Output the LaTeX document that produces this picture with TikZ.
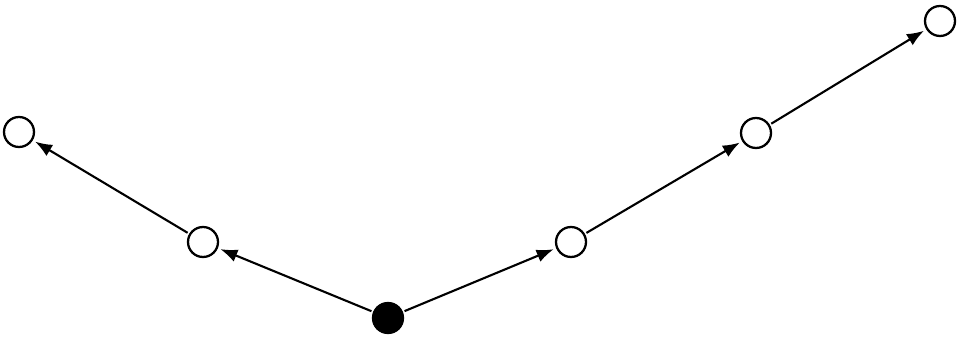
\documentclass[tikz,border=0pt]{standalone}
\usepackage{tikz}
\usetikzlibrary{arrows.meta}

\begin{document}
\begin{tikzpicture}[x=0.02cm,y=0.02cm,
 state/.style={draw=black,circle,line width=1.3pt,minimum size=0.6cm,inner sep=0pt,fill=white},
 start/.style={state,fill=black},
 arr/.style={-{Latex[length=3.4mm,width=2.6mm]},line width=1.2pt,shorten >=1.5pt,shorten <=1pt}]
\useasboundingbox (0,0) rectangle (960,338);
\node[start] (root) at (388,20) {};
\node[state] (left1) at (203,96) {};
\node[state] (left2) at (19,206) {};
\node[state] (right1) at (571,96) {};
\node[state] (right2) at (756,205) {};
\node[state] (right3) at (940,317) {};
\draw[arr] (root)--(left1); \draw[arr] (left1)--(left2);
\draw[arr] (root)--(right1); \draw[arr] (right1)--(right2); \draw[arr] (right2)--(right3);
\end{tikzpicture}
\end{document}
